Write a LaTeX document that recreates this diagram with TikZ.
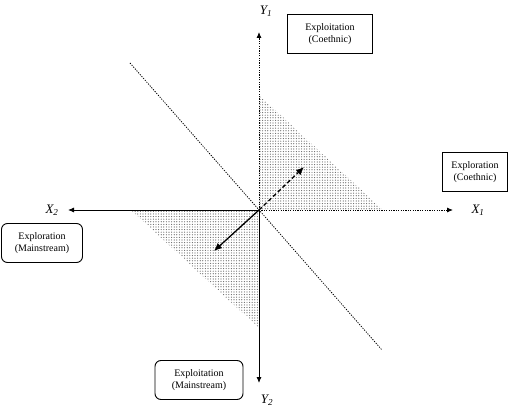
\documentclass[tikz,border=0pt]{standalone}
\usepackage{fontspec}
\setmainfont{Liberation Serif}
\usetikzlibrary{patterns,arrows.meta}
\pgfdeclarepatternformonly{finedots}{\pgfqpoint{-1pt}{-1pt}}{\pgfqpoint{1pt}{1pt}}{\pgfqpoint{2.6pt}{2.6pt}}{%
  \pgfpathcircle{\pgfqpoint{0pt}{0pt}}{0.6pt}\pgfusepath{fill}}
\begin{document}
\begin{tikzpicture}[x=1pt,y=-1pt,
  axis/.style={line width=0.9pt,-{Latex[length=6pt,width=5pt]}},
  dotaxis/.style={axis,dash pattern=on 1.2pt off 1.2pt},
  sbox/.style={draw,line width=0.9pt,align=center,font=\fontsize{10}{12}\selectfont,minimum height=39pt,inner sep=2pt},
  rbox/.style={sbox,rounded corners=6pt},
  axlabel/.style={font=\fontsize{13}{13}\selectfont\itshape,inner sep=0pt},
  shade/.style={pattern=finedots,pattern color=black!60}]
\useasboundingbox (0,0) rectangle (520,409);
\coordinate (O) at (259,210);
\coordinate (x1) at (453,210);
\coordinate (x2) at (68,210);
\coordinate (y1) at (259,32);
\coordinate (y2) at (259,383);
\coordinate (d1) at (130,63);
\coordinate (d2) at (382,350);
\coordinate (a1) at (304,167);
\coordinate (a2) at (214,251);
% shaded triangles
\fill[shade] (O) -- (259,95) -- (383,210) -- cycle;
\fill[shade] (O) -- (131,210) -- (259,328) -- cycle;
% diagonal
\draw[line width=0.8pt,dash pattern=on 1.2pt off 1.3pt] (d1) -- (d2);
% axes
\draw[dotaxis] (O) -- (x1);
\draw[dotaxis] (O) -- (y1);
\draw[axis] (O) -- (x2);
\draw[axis] (O) -- (y2);
% vectors
\draw[line width=1.3pt,dash pattern=on 4pt off 2.5pt,-{Latex[length=8pt,width=7pt]}] (O) -- (a1);
\draw[line width=1.3pt,-{Latex[length=8pt,width=7pt]}] (O) -- (a2);
% labels
\node[axlabel] (lx1) at (478,210) {X\textsubscript{1}};
\node[axlabel] (lx2) at (52,210) {X\textsubscript{2}};
\node[axlabel] (ly1) at (266,11) {Y\textsubscript{1}};
\node[axlabel] (ly2) at (267,400) {Y\textsubscript{2}};
% boxes
\node[sbox,minimum width=85pt] (eic) at (330,34) {Exploitation\\(Coethnic)};
\node[sbox,minimum width=65pt] (erc) at (475,172) {Exploration\\(Coethnic)};
\node[rbox,minimum width=81pt] (erm) at (42,243) {Exploration\\(Mainstream)};
\node[rbox,minimum width=88pt] (eim) at (199,380) {Exploitation\\(Mainstream)};
\end{tikzpicture}
\end{document}
